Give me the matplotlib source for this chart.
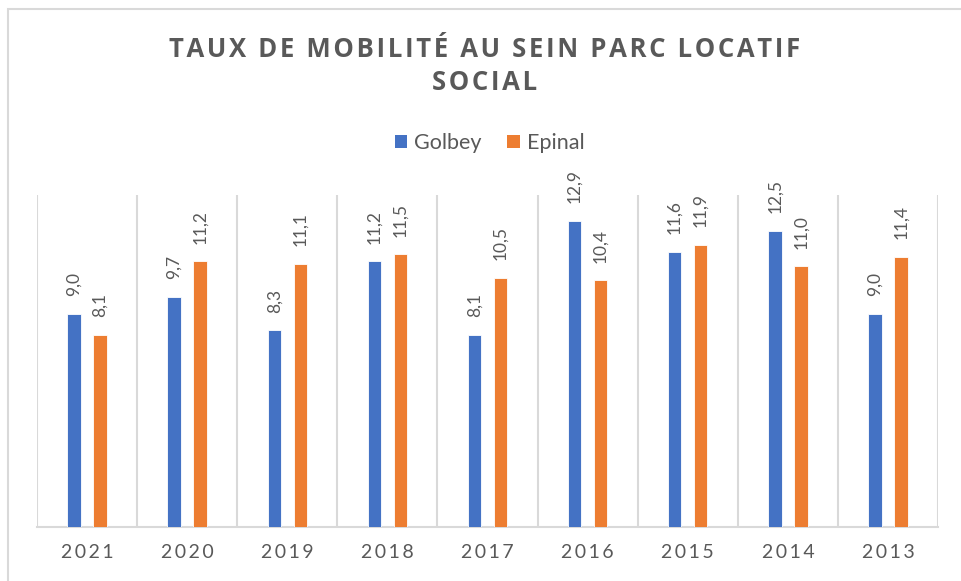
import matplotlib
matplotlib.use("Agg")
import matplotlib.pyplot as plt
from matplotlib.patches import Rectangle, Patch
import numpy as np

# Data
years = ["2021", "2020", "2019", "2018", "2017", "2016", "2015", "2014", "2013"]
golbey = [9.0, 9.7, 8.3, 11.2, 8.1, 12.9, 11.6, 12.5, 9.0]
epinal = [8.1, 11.2, 11.1, 11.5, 10.5, 10.4, 11.9, 11.0, 11.4]
series_names = ["Golbey", "Epinal"]
title_lines = ["TAUX DE MOBILITÉ AU SEIN PARC LOCATIF", "SOCIAL"]

BLUE = "#4472C4"
ORANGE = "#ED7D31"
TEXT = "#595959"
GRID = "#D9D9D9"

W, H = 961, 581
fig = plt.figure(figsize=(W / 100, H / 100), dpi=100)


def spaced(s, sep="\u200a"):
    """Letter-spaced version of a string."""
    return sep.join(list(s))


# chart frame
fig.patches.append(Rectangle((7.5 / W, -0.1), 1.2, 1 - 8.5 / H + 0.1,
                             transform=fig.transFigure, fill=False,
                             edgecolor=GRID, linewidth=1.5, zorder=0))

left, right, top, bottom = 37, 938, 195, 527
ax = fig.add_axes([left / W, 1 - bottom / H, (right - left) / W, (bottom - top) / H])

x = np.arange(len(years))
off = 0.13
bw = 0.135
b1 = ax.bar(x - off, golbey, bw, color=BLUE, edgecolor="white", linewidth=0.6, zorder=3)
b2 = ax.bar(x + off, epinal, bw, color=ORANGE, edgecolor="white", linewidth=0.6, zorder=3)

ax.set_xlim(-0.5, len(years) - 0.5)
ax.set_ylim(0, 14)

# category separators
for xv in np.arange(-0.5, len(years), 1.0):
    ax.axvline(xv, color=GRID, linewidth=1.5, zorder=1)

for s in ["top", "right", "left"]:
    ax.spines[s].set_visible(False)
ax.spines["bottom"].set_color(GRID)
ax.spines["bottom"].set_linewidth(1.5)
ax.set_yticks([])
ax.set_xticks(x)
ax.set_xticklabels([spaced(y, "\u2009") for y in years],
                   fontsize=14, color=TEXT, family=["Lato", "DejaVu Sans"])
ax.tick_params(axis="x", length=0, pad=12.5)

# value labels
for bars, vals in ((b1, golbey), (b2, epinal)):
    for rect, v in zip(bars, vals):
        ax.annotate(f"{v:.1f}".replace(".", ","),
                    (rect.get_x() + rect.get_width() / 2, rect.get_height()),
                    xytext=(0, 12.7), textcoords="offset points",
                    rotation=90, ha="center", va="bottom",
                    fontsize=12.5, color=TEXT, family=["Lato", "DejaVu Sans"])

# title
fig.text(485 / W, 1 - 56.7 / H, spaced(title_lines[0]),
         ha="center", va="baseline", fontsize=18.5, fontweight="bold",
         color=TEXT, family=["Open Sans", "DejaVu Sans"])
fig.text(485 / W, 1 - 90 / H, spaced(title_lines[1]),
         ha="center", va="baseline", fontsize=18.5, fontweight="bold",
         color=TEXT, family=["Open Sans", "DejaVu Sans"])

# legend
handles = [Patch(facecolor=BLUE, edgecolor="none"), Patch(facecolor=ORANGE, edgecolor="none")]
fig.legend(handles, series_names, loc="center", bbox_to_anchor=(489.5 / W, 1 - 143 / H),
           ncol=2, frameon=False, handlelength=0.59, handleheight=0.59,
           handletextpad=0.31, columnspacing=1.2,
           prop={"family": ["Lato", "DejaVu Sans"], "size": 15.5},
           labelcolor=TEXT)

fig.savefig("out.png", dpi=100)
